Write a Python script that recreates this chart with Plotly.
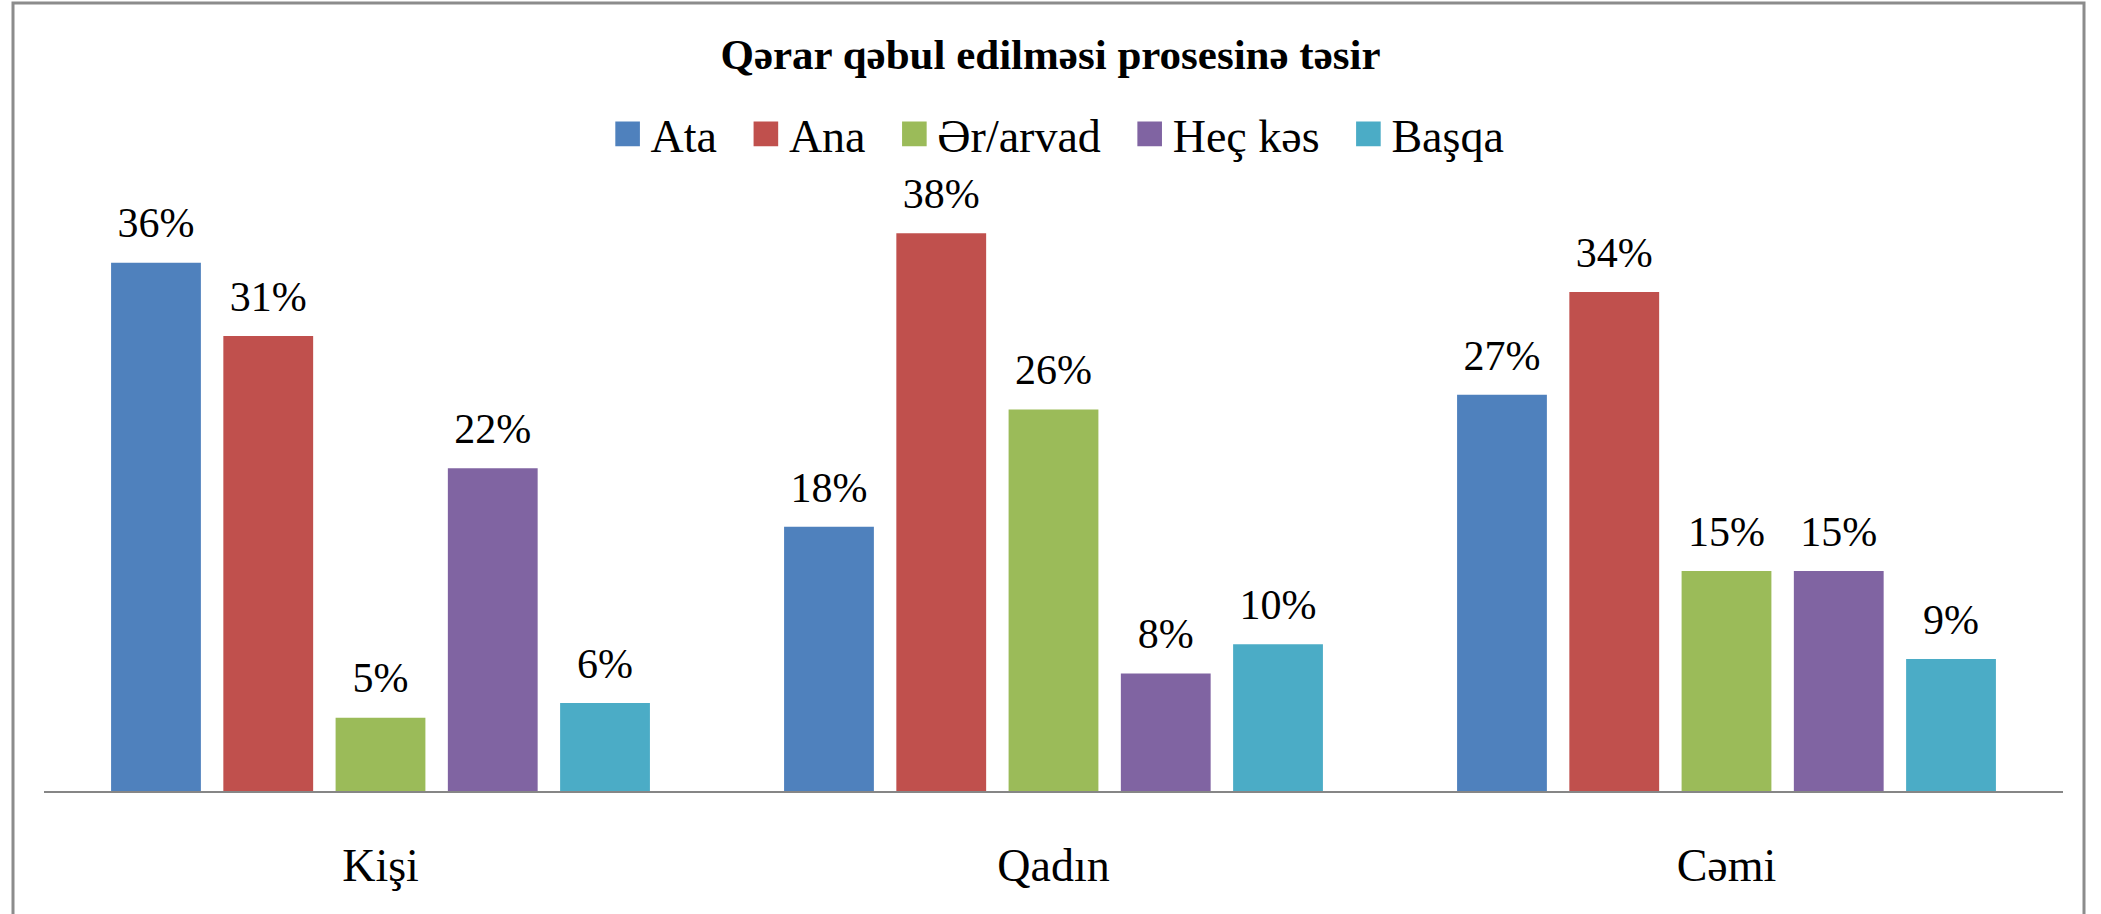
import plotly.graph_objects as go

categories = ["Kişi", "Qadın", "Cəmi"]
series_names = ["Ata", "Ana", "Ər/arvad", "Heç kəs", "Başqa"]
ata = [0.36, 0.18, 0.27]
ana = [0.31, 0.38, 0.34]
er_arvad = [0.05, 0.26, 0.15]
hec_kes = [0.22, 0.08, 0.15]
basqa = [0.06, 0.10, 0.09]
colors = ["#4F81BD", "#C0504D", "#9BBB59", "#8064A2", "#4BACC6"]

W, H = 2101, 914
L, R, T, B = 44, 38, 204, 123
FONT = "Liberation Serif, serif"
GAP = 0.166
PAD = "\u00a0\u00a0\u200a"

fig = go.Figure()
all_vals = [ata, ana, er_arvad, hec_kes, basqa]
for name, vals, col in zip(series_names, all_vals, colors):
    fig.add_trace(go.Bar(
        name=name + PAD, x=categories, y=vals,
        marker=dict(color=col, line=dict(width=0)),
        hoverinfo="skip",
    ))
for name, vals in zip(series_names, all_vals):
    fig.add_trace(go.Scatter(
        name=name + " label", x=categories, y=vals, mode="markers+text",
        text=[f"{round(v*100)}%" for v in vals],
        textposition="top center", cliponaxis=False,
        marker=dict(size=22, opacity=0, color="white"),
        textfont=dict(family=FONT, size=42, color="#000000"),
        showlegend=False, hoverinfo="skip",
    ))

plot_h = H - T - B
def py(p):
    return (H - B - p) / plot_h
def px(p):
    return (p - L) / (W - L - R)

fig.update_layout(
    width=W, height=H,
    margin=dict(l=L, r=R, t=T, b=B),
    font=dict(family=FONT, color="#000000"),
    paper_bgcolor="white", plot_bgcolor="white",
    barmode="group", bargap=GAP, bargroupgap=0.2,
    scattermode="group", scattergap=GAP,
    hovermode=False,
    title=dict(text="<b>Qərar qəbul edilməsi prosesinə təsir</b>",
               font=dict(family=FONT, size=43, color="#000000"),
               x=0.5, xanchor="center", xref="container",
               y=1 - 54 / H, yanchor="middle", yref="container"),
    legend=dict(orientation="h", x=0.511, xanchor="center", y=1 - 134 / H,
                yanchor="middle", yref="container", xref="container",
                font=dict(family=FONT, size=46, color="#000000"),
                bgcolor="rgba(0,0,0,0)"),
    xaxis=dict(showline=True, linecolor="#868686", linewidth=2, ticks="",
               tickfont=dict(family=FONT, size=46, color="#000000"),
               ticklabelstandoff=33, showgrid=False, zeroline=False),
    yaxis=dict(range=[0, 0.40], visible=False, showgrid=False, zeroline=False),
    shapes=[dict(type="rect", xref="paper", yref="paper",
                 x0=px(13), x1=px(2084), y0=py(960), y1=py(3),
                 line=dict(color="#8C8C8C", width=3), fillcolor="rgba(0,0,0,0)",
                 layer="below")],
)

post = """
document.body.style.margin='0';
document.querySelectorAll('.legend .legendpoints path').forEach(function(p){
  var t = p.getAttribute('transform') || '';
  p.setAttribute('transform', t + ' translate(-3,0) scale(2.05)');
});
"""

fig.write_html("out.html", config={"displayModeBar": False}, post_script=post)
